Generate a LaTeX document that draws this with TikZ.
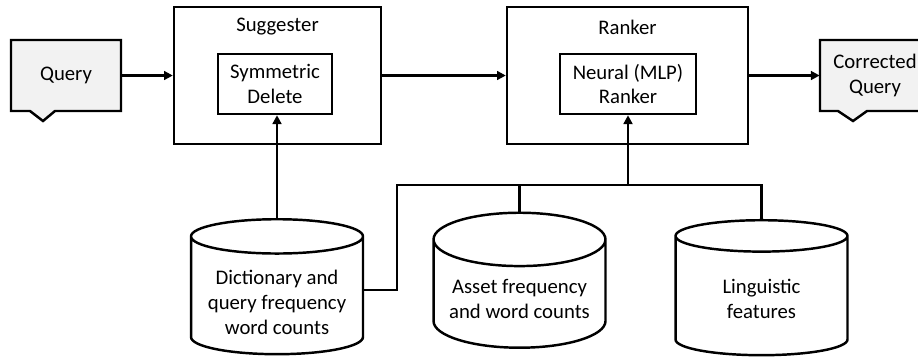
\documentclass[tikz,border=0pt]{standalone}
\usepackage{fontspec}
\setmainfont{Carlito}
\usetikzlibrary{arrows.meta,shapes.geometric}

\definecolor{docgray}{HTML}{F2F2F2}

\tikzset{
  every node/.style={font=\fontsize{11.8}{14.2}\selectfont, align=center},
  line/.style={line width=1.4pt},
  arr/.style={line, -{Triangle[length=5pt,width=5pt]}},
  docshape/.style={line, fill=docgray, line join=miter},
  stage/.style={draw, line width=1.4pt, minimum width=#1, minimum height=2.74cm},
  inner/.style={draw, line width=1.4pt, minimum width=#1, minimum height=1.2cm},
  store/.style={cylinder, shape border rotate=90, draw, line width=1.4pt,
    minimum width=3.44cm, minimum height=2.7cm, aspect=0.35},
}

\begin{document}
\begin{tikzpicture}[x=0.02cm, y=-0.02cm]
\useasboundingbox (0,0) rectangle (918,360);

% input and output
\draw[docshape] (11,40) -- (121,40) -- (121,111) -- (55,111) -- (43,121) -- (30,111) -- (11,111) -- cycle;
\node[minimum width=2.2cm, minimum height=1.42cm] (query) at (66,75.5) {Query};
\draw[docshape] (820,40) -- (930,40) -- (930,111) -- (867,111) -- (853,121) -- (838,111) -- (820,111) -- cycle;
\node[minimum width=2.2cm, minimum height=1.42cm] (corrected) at (875,75.5) {Corrected\\Query};

% suggester
\node[stage=4.14cm] (suggester) at (277.5,75.5) {};
\node (suggtitle) at (277.5,27) {Suggester};
\node[inner=2.28cm] (symdel) at (275,84) {Symmetric\\Delete};

% ranker
\node[stage=4.82cm] (ranker) at (627.5,75.5) {};
\node (ranktitle) at (627.5,27) {Ranker};
\node[inner=2.72cm] (mlp) at (628,84) {Neural (MLP)\\Ranker};

% data stores
\node[store] (dict) at (277,299) {\phantom{Dictionary}\\\phantom{word}};
\node (dicttext) at (277,302) {Dictionary and\\query frequency\\word counts};
\node[store] (asset) at (519.5,299) {Asset frequency\\and word counts};
\node[store] (ling) at (761.5,299) {Linguistic\\features};

\coordinate (busD) at (397,290);
\coordinate (busL) at (397,185);
\coordinate (busM) at (628,185);

% connectors
\draw[arr] (query.east) -- (suggester.west);
\draw[arr] (suggester.east) -- (ranker.west);
\draw[arr] (ranker.east) -- (corrected.west);
\draw[arr] (dict.top) -- (dict.top |- symdel.south);
\draw[line] (dict.east |- busD) -- (busD) -- (busL) -| (ling.top);
\draw[line] (asset.top) -- (asset.top |- busL);
\draw[arr] (busM) -- (mlp.south);
\end{tikzpicture}
\end{document}
